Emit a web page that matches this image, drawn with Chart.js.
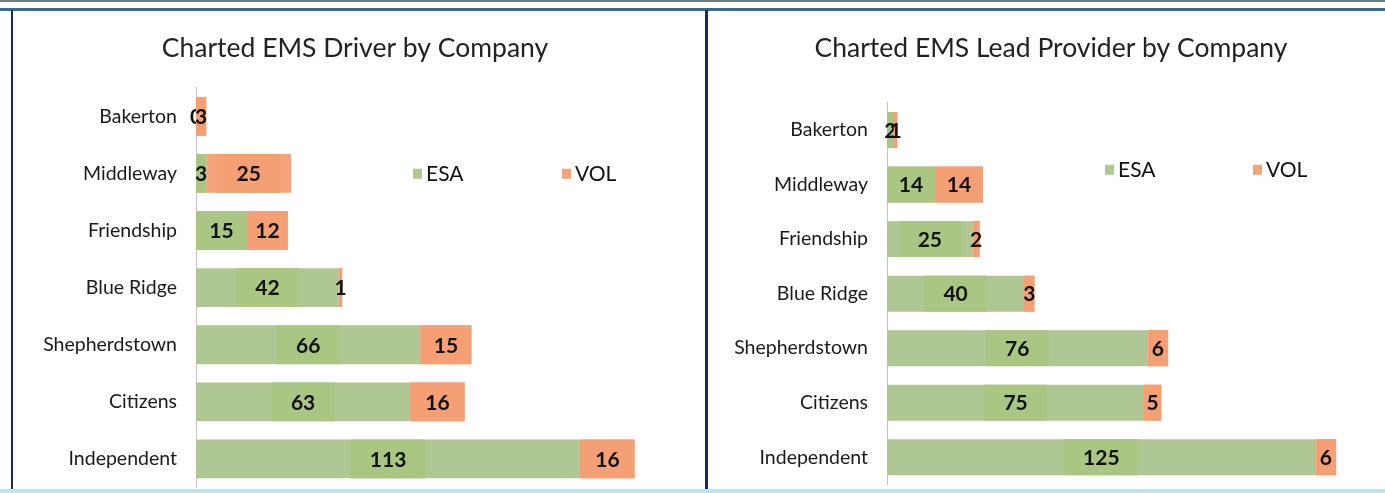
<!DOCTYPE html>
<html>
<head>
    <title>Charted EMS by Company</title>
    <script src="https://cdn.jsdelivr.net/npm/chart.js@4.4.1/dist/chart.umd.min.js"></script>
    <style>
        body {
            margin: 0;
            width: 1385px;
            height: 493px;
            position: relative;
            overflow: hidden;
            background: #ffffff;
            font-family: Lato, Arial, sans-serif;
        }
        .topStrip { position: absolute; left: 0; top: 0; width: 1385px; height: 2px; background: #6d7f86; }
        .topBorder { position: absolute; left: 0; top: 8px; width: 1385px; height: 3px; background: #3e6a8c; }
        .leftBorder { position: absolute; left: 11px; top: 10px; width: 2px; height: 483px; background: #1b2a5c; }
        .divider { position: absolute; left: 705px; top: 10px; width: 3px; height: 483px; background: #1b2a5c; }
        .bottomBorder { position: absolute; left: 0; top: 489px; width: 1385px; height: 4px; background: #bfe3f3; }
        .panel { position: absolute; top: 12px; height: 477px; }
        #leftPanel { left: 13px; width: 692px; }
        #rightPanel { left: 708px; width: 677px; }
    </style>
</head>
<body>
    <div class="topStrip"></div>
    <div class="topBorder"></div>
    <div class="leftBorder"></div>
    <div class="divider"></div>
    <div class="bottomBorder"></div>
    <div class="panel" id="leftPanel"><canvas id="driverChart"></canvas></div>
    <div class="panel" id="rightPanel"><canvas id="leadChart"></canvas></div>

    <script>
        const companies = ['Bakerton', 'Middleway', 'Friendship', 'Blue Ridge', 'Shepherdstown', 'Citizens', 'Independent'];
        const seriesNames = ['ESA', 'VOL'];

        // Charted EMS Driver
        const driverEsa = [0, 3, 15, 42, 66, 63, 113];
        const driverVol = [3, 25, 12, 1, 15, 16, 16];

        // Charted EMS Lead Provider
        const leadEsa = [2, 14, 25, 40, 76, 75, 125];
        const leadVol = [1, 14, 2, 3, 6, 5, 6];

        const esaColor = '#afc792';
        const volColor = '#f5a37c';
        const patchColors = ['#aac683', '#f59f75'];   // faint label box shading from the original
        const fontFamily = 'Lato, Arial, sans-serif';

        // value labels centered in each segment, with a faint label box
        const segmentLabels = {
            id: 'segmentLabels',
            afterDatasetsDraw(chart) {
                const c = chart.ctx;
                c.save();
                c.font = 'bold 21px ' + fontFamily;
                c.textAlign = 'center';
                c.textBaseline = 'middle';
                chart.data.datasets.forEach((ds, i) => {
                    chart.getDatasetMeta(i).data.forEach((bar, j) => {
                        const txt = String(ds.data[j]);
                        const cx = (bar.x + bar.base) / 2;
                        const lo = Math.min(bar.x, bar.base);
                        const hi = Math.max(bar.x, bar.base);
                        const half = c.measureText(txt).width / 2 + 19;
                        const x0 = Math.max(lo, cx - half);
                        const x1 = Math.min(hi, cx + half);
                        if (x1 > x0) {
                            c.fillStyle = patchColors[i];
                            c.fillRect(x0, bar.y - bar.height / 2, x1 - x0, bar.height);
                        }
                        c.fillStyle = '#111111';
                        c.fillText(txt, cx, bar.y + 1);
                    });
                });
                c.restore();
            }
        };

        // legend placed inside the plot area, like the original
        const innerLegend = {
            id: 'innerLegend',
            afterDraw(chart, args, opts) {
                const c = chart.ctx;
                const area = chart.chartArea;
                c.save();
                c.font = '21px ' + fontFamily;
                c.textBaseline = 'middle';
                chart.data.datasets.forEach((ds, i) => {
                    const x = area.left + opts.offsets[i];
                    const y = area.top + opts.dy;
                    c.fillStyle = ds.backgroundColor;
                    c.fillRect(x, y - 5, 9, 10);
                    c.fillStyle = '#111111';
                    c.fillText(ds.label, x + 13, y);
                });
                c.restore();
            }
        };

        function makeChart(id, title, esa, vol, cfg) {
            return new Chart(document.getElementById(id), {
                type: 'bar',
                data: {
                    labels: companies,
                    datasets: [
                        { label: seriesNames[0], data: esa, backgroundColor: esaColor },
                        { label: seriesNames[1], data: vol, backgroundColor: volColor }
                    ]
                },
                options: {
                    indexAxis: 'y',
                    responsive: true,
                    maintainAspectRatio: false,
                    animation: false,
                    datasets: {
                        bar: { categoryPercentage: 1, barPercentage: cfg.barPct }
                    },
                    layout: {
                        padding: { left: cfg.padLeft, right: cfg.padRight, top: 0, bottom: cfg.padBottom }
                    },
                    scales: {
                        x: {
                            stacked: true,
                            min: 0,
                            max: 140,
                            display: false
                        },
                        y: {
                            stacked: true,
                            grid: { display: false, drawTicks: false },
                            border: { display: true, color: '#c4c4c4', width: 1 },
                            ticks: {
                                padding: 19,
                                color: '#1a1a1a',
                                font: { family: fontFamily, size: 19.5 }
                            },
                            afterFit(scale) {
                                scale.width = cfg.axisWidth;
                                scale.paddingTop = 0;
                                scale.paddingBottom = 0;
                            }
                        }
                    },
                    plugins: {
                        legend: { display: false },
                        tooltip: { enabled: false },
                        title: {
                            display: true,
                            text: title,
                            color: '#222222',
                            font: { family: fontFamily, size: 26.5, weight: 'normal' },
                            padding: { top: 21, bottom: cfg.titleBottom }
                        },
                        innerLegend: { offsets: cfg.legendX, dy: cfg.legendY }
                    }
                },
                plugins: [segmentLabels, innerLegend]
            });
        }

        makeChart('driverChart', 'Charted EMS Driver by Company', driverEsa, driverVol, {
            barPct: 0.68, padLeft: 25, padRight: 33, padBottom: 1.5, titleBottom: 23, axisWidth: 158,
            legendX: [217, 366], legendY: 86
        });

        makeChart('leadChart', 'Charted EMS Lead Provider by Company', leadEsa, leadVol, {
            barPct: 0.66, padLeft: 27, padRight: 18, padBottom: 4.5, titleBottom: 38, axisWidth: 152,
            legendX: [218, 366], legendY: 67
        });
    </script>
</body>
</html>
